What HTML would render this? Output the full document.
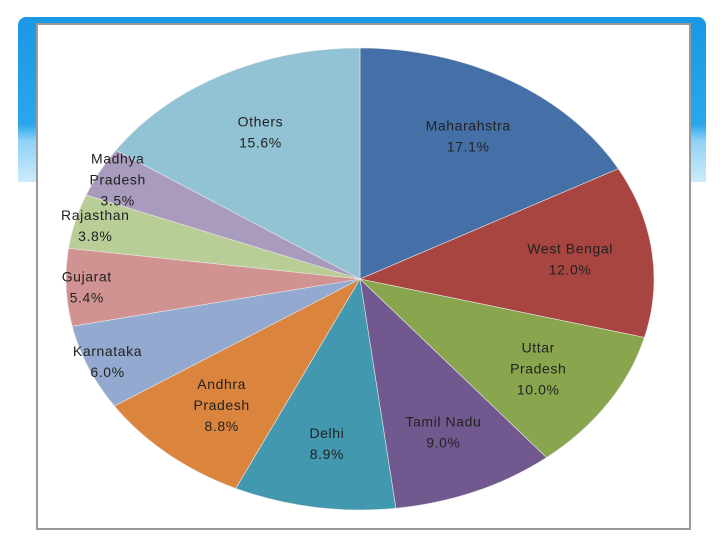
<!DOCTYPE html>
<html><head><meta charset="utf-8"><style>
html,body{margin:0;padding:0;background:#fff;width:720px;height:540px;overflow:hidden}
#band{position:absolute;left:18px;top:17px;width:688px;height:165px;border-radius:8px 8px 0 0;
background:linear-gradient(to bottom,#1b98e4 0%,#2aa6ec 65%,#8fd1f6 75%,#cdeafb 100%)}
#box{position:absolute;left:36px;top:23px;width:651px;height:503px;background:#fff;border:2px solid #9a9a9a}
svg{position:absolute;left:0;top:0}
text{font-family:"Liberation Sans",sans-serif;font-size:14px;fill:#222;letter-spacing:0.6px}
</style></head><body>
<div id="band"></div>
<div id="box"></div>
<svg id="chart" width="720" height="540"></svg>
<script>
const categories=["Maharahstra","West Bengal","Uttar Pradesh","Tamil Nadu","Delhi","Andhra Pradesh","Karnataka","Gujarat","Rajasthan","Madhya Pradesh","Others"];
const labelLines=[["Maharahstra"],["West Bengal"],["Uttar","Pradesh"],["Tamil Nadu"],["Delhi"],["Andhra","Pradesh"],["Karnataka"],["Gujarat"],["Rajasthan"],["Madhya","Pradesh"],["Others"]];
const values=[17.1,12.0,10.0,9.0,8.9,8.8,6.0,5.4,3.8,3.5,15.6];
const colors=["#4570a7","#a94541","#89a54e","#71588f","#4298af","#db843d","#93a9cf","#d19392","#b9cd96","#a99bbd","#92c3d4"];
const cx=360,cy=279,rx=294,ry=231;
const svg=document.getElementById('chart');
const NS="http://www.w3.org/2000/svg";
const total=values.reduce((a,b)=>a+b,0);
function pt(a,f){return [cx+rx*f*Math.sin(a),cy-ry*f*Math.cos(a)];}
let acc=0;
values.forEach((v,i)=>{
  const a0=acc/total*2*Math.PI; acc+=v; const a1=acc/total*2*Math.PI;
  const p0=pt(a0,1),p1=pt(a1,1);
  const large=(a1-a0)>Math.PI?1:0;
  const path=document.createElementNS(NS,'path');
  path.setAttribute('d',`M${cx},${cy} L${p0[0]},${p0[1]} A${rx},${ry} 0 ${large} 1 ${p1[0]},${p1[1]} Z`);
  path.setAttribute('fill',colors[i]);
  path.setAttribute('stroke','#e8e8e8');
  path.setAttribute('stroke-width','0.6');
  
  
  svg.appendChild(path);
});
acc=0;
values.forEach((v,i)=>{
  const am=(acc+v/2)/total*2*Math.PI; acc+=v;
  const f=v<6.5?0.93:0.72;
  const p=pt(am,f);
  const lines=labelLines[i].concat([v.toFixed(1)+"%"]);
  const t=document.createElementNS(NS,'text');
  t.setAttribute('text-anchor','middle');
  
  
  const y0=p[1]-(lines.length-1)*10.5+5;
  lines.forEach((s,k)=>{
    const ts=document.createElementNS(NS,'tspan');
    ts.setAttribute('x',p[0]);
    ts.setAttribute('y',y0+k*21);
    ts.textContent=s;
    t.appendChild(ts);
  });
  svg.appendChild(t);
});
</script>
</body></html>
